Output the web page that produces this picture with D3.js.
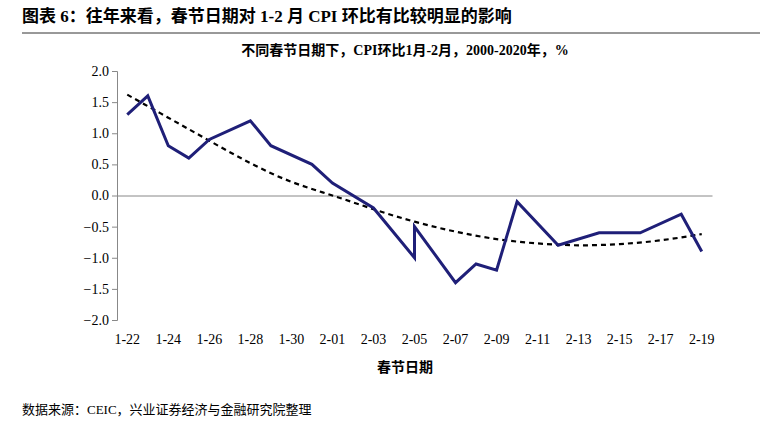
<!DOCTYPE html><html><head><meta charset="utf-8">
<script src="https://cdn.jsdelivr.net/npm/d3@7"></script>
<style>body{margin:0;background:#fff}</style></head><body>
<svg id="c" width="782" height="424"></svg>
<script>
const days=["1-22","1-23","1-24","1-25","1-26","1-27","1-28","1-29","1-30","1-31","2-01","2-02","2-03","2-04","2-05","2-06","2-07","2-08","2-09","2-10","2-11","2-12","2-13","2-14","2-15","2-16","2-17","2-18","2-19"];
const tickLabels=["1-22","1-24","1-26","1-28","1-30","2-01","2-03","2-05","2-07","2-09","2-11","2-13","2-15","2-17","2-19"];
const cpiDates=["1-22","1-23","1-24","1-25","1-26","1-28","1-29","1-31","2-01","2-03","2-05","2-05","2-07","2-08","2-09","2-10","2-12","2-14","2-16","2-18","2-19"];
const cpiValues=[1.3,1.6,0.8,0.6,0.9,1.2,0.8,0.5,0.2,-0.2,-1.0,-0.5,-1.4,-1.1,-1.2,-0.1,-0.8,-0.6,-0.6,-0.3,-0.9];
const trendDates=["1-22","1-24","1-26","1-28","1-30","2-01","2-03","2-05","2-07","2-09","2-11","2-13","2-15","2-17","2-19"];
const trendValues=[1.62,1.25,0.88,0.52,0.22,0.0,-0.22,-0.42,-0.58,-0.7,-0.77,-0.8,-0.78,-0.72,-0.62];
const yTicks=[2,1.5,1,0.5,0,-0.5,-1,-1.5,-2];

const svg=d3.select("#c");
const serif="'Liberation Serif','Noto Sans CJK SC',serif";
svg.append("text").attr("x",22).attr("y",22).attr("font-family",serif).attr("font-weight","bold").attr("font-size",17).text("图表 6：往年来看，春节日期对 1-2 月 CPI 环比有比较明显的影响");
svg.append("line").attr("x1",22).attr("x2",760).attr("y1",33).attr("y2",33).attr("stroke","#333").attr("stroke-width",1);
svg.append("text").attr("x",405).attr("y",55).attr("text-anchor","middle").attr("font-family",serif).attr("font-weight","bold").attr("font-size",14).text("不同春节日期下，CPI环比1月-2月，2000-2020年，%");
svg.append("text").attr("x",405).attr("y",372).attr("text-anchor","middle").attr("font-family",serif).attr("font-weight","bold").attr("font-size",14).text("春节日期");
svg.append("text").attr("x",22).attr("y",414).attr("font-family",serif).attr("font-size",13).text("数据来源：CEIC，兴业证券经济与金融研究院整理");

const x=d3.scaleBand().domain(days).range([117,712]);
const cx=d=>x(d)+x.bandwidth()/2;
const y=d3.scaleLinear().domain([-2,2]).range([320,71]);

svg.append("g").attr("transform","translate(117,0)")
 .call(d3.axisLeft(y).tickValues(yTicks).tickFormat(d3.format(".1f")).tickSize(5))
 .call(g=>g.selectAll("text").attr("font-family",serif).attr("font-size",14).attr("fill","#000"))
 .call(g=>g.selectAll("line,path").attr("stroke","#888"));
const xa=svg.append("g").attr("transform",`translate(0,${y(0)})`)
 .call(d3.axisBottom(x).tickValues(tickLabels).tickSize(0).tickFormat(""))
 .call(g=>g.select("path").attr("stroke","#888"));
svg.append("g").selectAll("text").data(tickLabels).join("text")
 .attr("x",d=>cx(d)).attr("y",344).attr("text-anchor","middle").attr("font-family",serif).attr("font-size",14).text(d=>d);

svg.append("path").datum(trendDates.map((d,i)=>[cx(d),y(trendValues[i])]))
 .attr("d",d3.line().curve(d3.curveNatural)).attr("fill","none").attr("stroke","#000").attr("stroke-width",2.2).attr("stroke-dasharray","5,4");
svg.append("path").datum(cpiDates.map((d,i)=>[cx(d),y(cpiValues[i])]))
 .attr("d",d3.line()).attr("fill","none").attr("stroke","#1f1f78").attr("stroke-width",3).attr("stroke-linejoin","miter");
</script></body></html>
